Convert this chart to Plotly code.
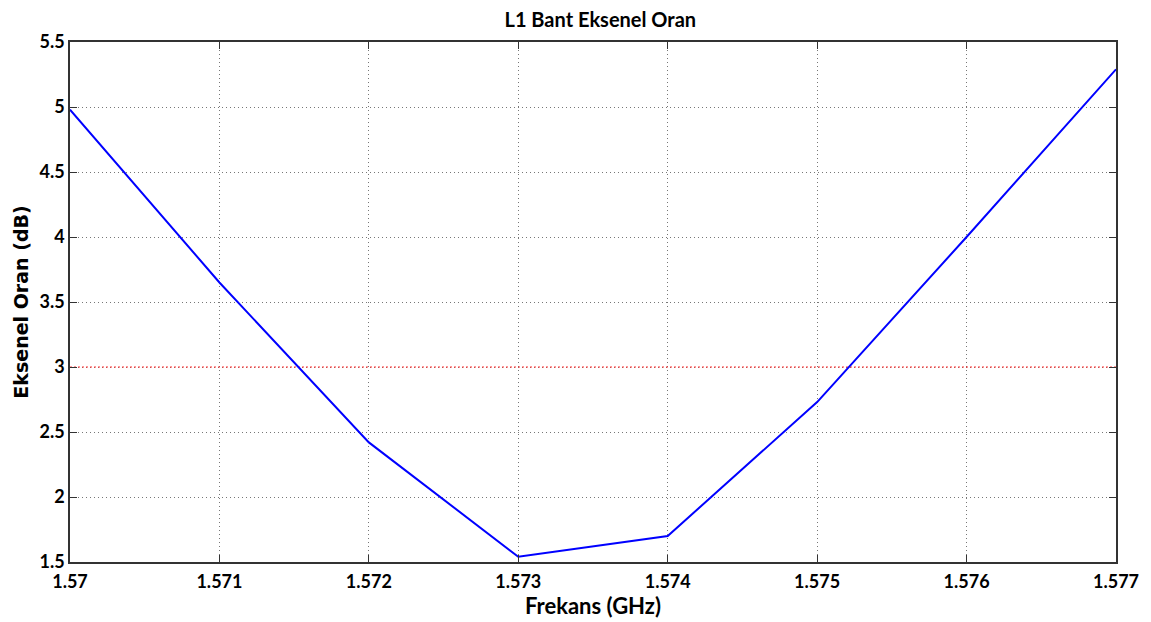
import plotly.graph_objects as go

# L1 band axial ratio
freq = [1.570, 1.571, 1.572, 1.573, 1.574, 1.575, 1.576, 1.577]
axial_ratio = [4.98, 3.65, 2.42, 1.54, 1.70, 2.73, 4.00, 5.29]

limit_x = [1.570, 1.577]
limit_y = [3, 3]

x_ticks = [1.570, 1.571, 1.572, 1.573, 1.574, 1.575, 1.576, 1.577]
x_labels = ['1.57', '1.571', '1.572', '1.573', '1.574', '1.575', '1.576', '1.577']
y_ticks = [1.5, 2, 2.5, 3, 3.5, 4, 4.5, 5, 5.5]
y_labels = ['1.5', '2', '2.5', '3', '3.5', '4', '4.5', '5', '5.5']

fig = go.Figure()
fig.add_trace(go.Scatter(
    x=limit_x, y=limit_y, mode='lines',
    line=dict(color='#ff3333', width=1, dash='2px,2px'),
    showlegend=False
))
fig.add_trace(go.Scatter(
    x=freq, y=axial_ratio, mode='lines',
    line=dict(color='#0000ff', width=2),
    showlegend=False
))

tickfont = dict(family='Lato', size=18, color='black', weight='bold')
axis_common = dict(
    showline=True, linecolor='#333333', linewidth=1.5, mirror='ticks',
    ticks='inside', ticklen=7, tickcolor='#333333',
    showgrid=True, gridcolor='#777777', griddash='1px,3px', gridwidth=1,
    zeroline=False, tickfont=tickfont,
)

# page body adds an 8px offset, so the figure is a little smaller
fig.update_layout(
    width=1143, height=614,
    margin=dict(l=55, r=33, t=34, b=60),
    paper_bgcolor='white', plot_bgcolor='white',
    title=dict(text='<b>L1 Bant Eksenel Oran</b>', xref='paper', x=0.507,
               xanchor='center', y=0.992, yanchor='top',
               font=dict(family='Lato', size=20, color='black')),
    xaxis=dict(range=[1.570, 1.577], tickvals=x_ticks, ticktext=x_labels,
               ticklabelstandoff=3,
               title=dict(text='<b>Frekans (GHz)</b>', standoff=0,
                          font=dict(family='Lato', size=22, color='black')),
               **axis_common),
    yaxis=dict(range=[1.5, 5.5], tickvals=y_ticks, ticktext=y_labels,
               title=dict(text='<b>Eksenel Oran (dB)</b>', standoff=6,
                          font=dict(family='DejaVu Sans', size=19, color='black')),
               **axis_common),
)

fig.write_html("out.html")
